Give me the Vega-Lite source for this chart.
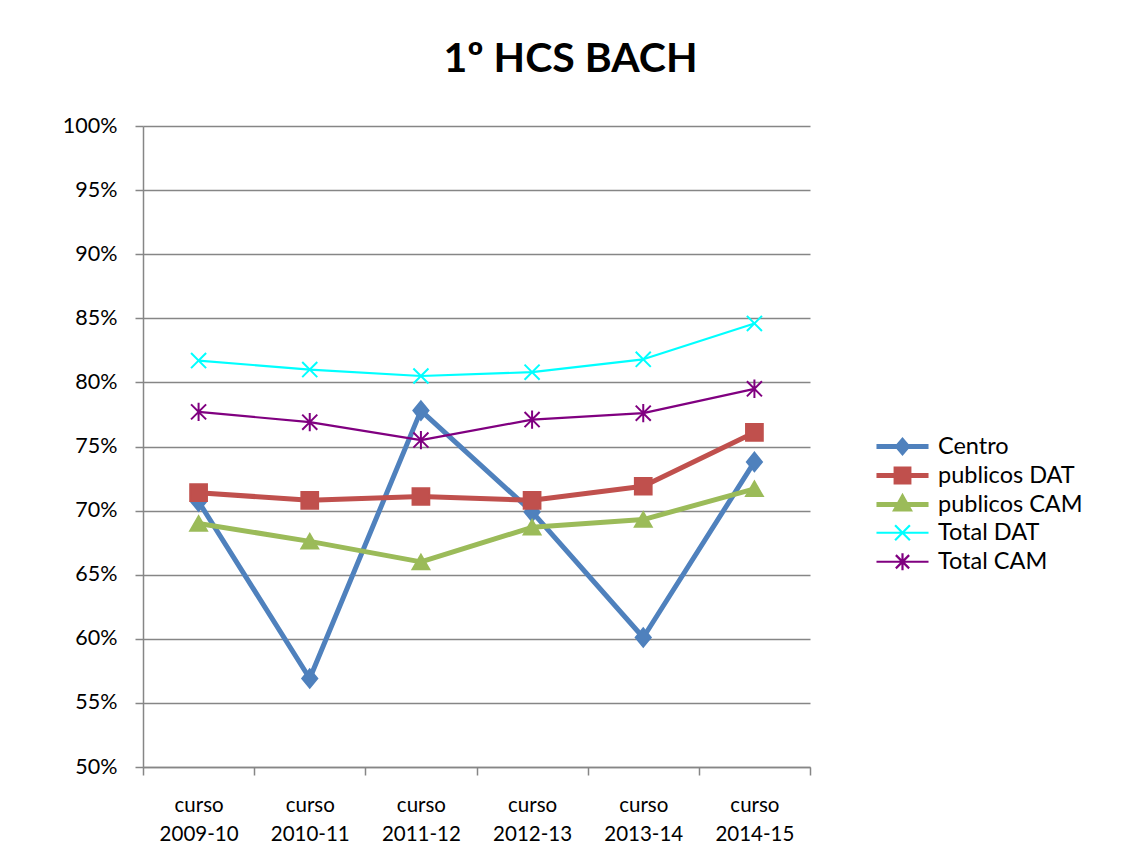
{
  "$schema": "https://vega.github.io/schema/vega-lite/v6.json",
  "width": 667,
  "height": 641,
  "autosize": {"type": "none"},
  "padding": {"left": 143, "top": 126, "right": 320, "bottom": 98},
  "background": "white",
  "config": {"view": {"stroke": null}, "font": "Lato", "legend": {"gridAlign": "all"}},
  "title": {
    "text": "1º HCS BACH",
    "fontSize": 41,
    "fontWeight": "bold",
    "font": "Lato",
    "color": "black",
    "anchor": "middle",
    "frame": "group",
    "baseline": "alphabetic",
    "offset": 2,
    "dx": 94
  },
  "data": {
    "values": [
      {"curso": "curso 2009-10", "series": "Centro", "value": 0.707},
      {"curso": "curso 2010-11", "series": "Centro", "value": 0.569},
      {"curso": "curso 2011-12", "series": "Centro", "value": 0.778},
      {"curso": "curso 2012-13", "series": "Centro", "value": 0.699},
      {"curso": "curso 2013-14", "series": "Centro", "value": 0.601},
      {"curso": "curso 2014-15", "series": "Centro", "value": 0.738},
      {"curso": "curso 2009-10", "series": "publicos DAT", "value": 0.714},
      {"curso": "curso 2010-11", "series": "publicos DAT", "value": 0.708},
      {"curso": "curso 2011-12", "series": "publicos DAT", "value": 0.711},
      {"curso": "curso 2012-13", "series": "publicos DAT", "value": 0.708},
      {"curso": "curso 2013-14", "series": "publicos DAT", "value": 0.719},
      {"curso": "curso 2014-15", "series": "publicos DAT", "value": 0.761},
      {"curso": "curso 2009-10", "series": "publicos CAM", "value": 0.690},
      {"curso": "curso 2010-11", "series": "publicos CAM", "value": 0.676},
      {"curso": "curso 2011-12", "series": "publicos CAM", "value": 0.660},
      {"curso": "curso 2012-13", "series": "publicos CAM", "value": 0.687},
      {"curso": "curso 2013-14", "series": "publicos CAM", "value": 0.693},
      {"curso": "curso 2014-15", "series": "publicos CAM", "value": 0.717},
      {"curso": "curso 2009-10", "series": "Total DAT", "value": 0.817},
      {"curso": "curso 2010-11", "series": "Total DAT", "value": 0.810},
      {"curso": "curso 2011-12", "series": "Total DAT", "value": 0.805},
      {"curso": "curso 2012-13", "series": "Total DAT", "value": 0.808},
      {"curso": "curso 2013-14", "series": "Total DAT", "value": 0.818},
      {"curso": "curso 2014-15", "series": "Total DAT", "value": 0.846},
      {"curso": "curso 2009-10", "series": "Total CAM", "value": 0.777},
      {"curso": "curso 2010-11", "series": "Total CAM", "value": 0.769},
      {"curso": "curso 2011-12", "series": "Total CAM", "value": 0.755},
      {"curso": "curso 2012-13", "series": "Total CAM", "value": 0.771},
      {"curso": "curso 2013-14", "series": "Total CAM", "value": 0.776},
      {"curso": "curso 2014-15", "series": "Total CAM", "value": 0.795}
    ]
  },
  "encoding": {
    "x": {
      "field": "curso",
      "type": "ordinal",
      "sort": null,
      "scale": {"type": "band", "paddingInner": 0, "paddingOuter": 0},
      "axis": {
        "title": null,
        "labelAngle": 0,
        "labelExpr": "split(datum.label, ' ')",
        "labelFontSize": 20.5,
        "labelFont": "Lato",
        "labelColor": "black",
        "labelLineHeight": 29,
        "labelPadding": 20,
        "tickSize": 8,
        "tickBand": "extent",
        "tickColor": "#868686",
        "tickWidth": 1.5,
        "domainColor": "#868686",
        "domainWidth": 1.5,
        "grid": false
      }
    },
    "y": {
      "field": "value",
      "type": "quantitative",
      "scale": {"domain": [0.5, 1], "nice": false, "zero": false},
      "axis": {
        "title": null,
        "values": [0.5, 0.55, 0.6, 0.65, 0.7, 0.75, 0.8, 0.85, 0.9, 0.95, 1.0],
        "format": ".0%",
        "labelFontSize": 21.5,
        "labelFont": "Lato",
        "labelColor": "black",
        "labelPadding": 18,
        "tickSize": 8,
        "tickColor": "#868686",
        "tickWidth": 1.5,
        "domainColor": "#868686",
        "domainWidth": 1.5,
        "grid": true,
        "gridColor": "#868686",
        "gridWidth": 1.5
      }
    }
  },
  "layer": [
    {
      "mark": {"type": "line", "strokeJoin": "round", "strokeCap": "round"},
      "encoding": {
        "color": {
          "field": "series",
          "type": "nominal",
          "scale": {
            "domain": ["Centro", "publicos DAT", "publicos CAM", "Total DAT", "Total CAM"],
            "range": ["#4F81BD", "#C0504D", "#9BBB59", "#00FFFF", "#800080"]
          },
          "legend": null
        },
        "strokeWidth": {
          "field": "series",
          "type": "nominal",
          "scale": {
            "type": "ordinal",
            "domain": ["Centro", "publicos DAT", "publicos CAM", "Total DAT", "Total CAM"],
            "range": [5, 5, 5, 2.2, 2.2]
          },
          "legend": null
        }
      }
    },
    {
      "mark": {"type": "point", "filled": true, "opacity": 1, "size": 280, "strokeWidth": 2},
      "encoding": {
        "fill": {
          "field": "series",
          "type": "nominal",
          "scale": {
            "domain": ["Centro", "publicos DAT", "publicos CAM", "Total DAT", "Total CAM"],
            "range": ["#4F81BD", "#C0504D", "#9BBB59", "#00FFFF", "#800080"]
          },
          "legend": null
        },
        "stroke": {
          "field": "series",
          "type": "nominal",
          "scale": {
            "domain": ["Centro", "publicos DAT", "publicos CAM", "Total DAT", "Total CAM"],
            "range": ["#4F81BD", "#C0504D", "#9BBB59", "#00FFFF", "#800080"]
          },
          "legend": null
        },
        "shape": {
          "field": "series",
          "type": "nominal",
          "scale": {
            "domain": ["Centro", "publicos DAT", "publicos CAM", "Total DAT", "Total CAM"],
            "range": ["M0,-1.1L0.9,0L0,1.1L-0.9,0Z", "square", "triangle-up", "M-0.9,-0.9L0.9,0.9M-0.9,0.9L0.9,-0.9", "M-0.9,-0.9L0.9,0.9M-0.9,0.9L0.9,-0.9M0,-1.1V1.1"]
          },
          "legend": null
        }
      }
    },
    {
      "mark": {"type": "point", "filled": true, "opacity": 0},
      "encoding": {
        "fill": {
          "field": "series",
          "type": "nominal",
          "scale": {
            "domain": ["Centro", "publicos DAT", "publicos CAM", "Total DAT", "Total CAM"],
            "range": ["#4F81BD", "#C0504D", "#9BBB59", "#00FFFF", "#800080"]
          },
          "legend": {
            "title": null,
            "orient": "none",
            "legendX": 747,
            "legendY": 308,
            "padding": 0,
            "rowPadding": -5,
            "symbolSize": 380,
            "labelOffset": 23,
            "labelFontSize": 23.5,
            "labelFont": "Lato",
            "labelColor": "black",
            "labelLimit": 300,
            "gridAlign": "all"
          }
        },
        "stroke": {
          "field": "series",
          "type": "nominal",
          "scale": {
            "domain": ["Centro", "publicos DAT", "publicos CAM", "Total DAT", "Total CAM"],
            "range": ["#4F81BD", "#C0504D", "#9BBB59", "#00FFFF", "#800080"]
          },
          "legend": {
            "title": null,
            "orient": "none",
            "legendX": 747,
            "legendY": 308,
            "padding": 0,
            "rowPadding": -5,
            "symbolSize": 380,
            "labelOffset": 23,
            "labelFontSize": 23.5,
            "labelFont": "Lato",
            "labelColor": "black",
            "labelLimit": 300,
            "gridAlign": "all"
          }
        },
        "strokeWidth": {
          "field": "series",
          "type": "nominal",
          "scale": {
            "type": "ordinal",
            "domain": ["Centro", "publicos DAT", "publicos CAM", "Total DAT", "Total CAM"],
            "range": [5, 5, 5, 2.2, 2.2]
          },
          "legend": {
            "title": null,
            "orient": "none",
            "legendX": 747,
            "legendY": 308,
            "padding": 0,
            "rowPadding": -5,
            "symbolSize": 380,
            "labelOffset": 23,
            "labelFontSize": 23.5,
            "labelFont": "Lato",
            "labelColor": "black",
            "labelLimit": 300,
            "gridAlign": "all"
          }
        },
        "shape": {
          "field": "series",
          "type": "nominal",
          "scale": {
            "domain": ["Centro", "publicos DAT", "publicos CAM", "Total DAT", "Total CAM"],
            "range": [
              "M0,-0.57L0.49,0L0,0.57L-0.49,0ZM-2.67,0H2.67",
              "M-0.66,-0.66H0.66V0.66H-0.66ZM-0.3,-0.3H0.3V0.3H-0.3ZM-2.67,0H2.67",
              "M0,-0.68L0.64,0.47H-0.64ZM-2.67,0H2.67",
              "M-0.76,-0.76L0.76,0.76M-0.76,0.76L0.76,-0.76M-2.67,0H2.67",
              "M-0.68,-0.68L0.68,0.68M-0.68,0.68L0.68,-0.68M0,-0.86V0.86M-2.67,0H2.67"
            ]
          },
          "legend": {
            "title": null,
            "orient": "none",
            "legendX": 747,
            "legendY": 308,
            "padding": 0,
            "rowPadding": -5,
            "symbolSize": 380,
            "labelOffset": 23,
            "labelFontSize": 23.5,
            "labelFont": "Lato",
            "labelColor": "black",
            "labelLimit": 300,
            "gridAlign": "all"
          }
        }
      }
    }
  ],
  "resolve": {
    "scale": {"fill": "independent", "stroke": "independent", "shape": "independent", "strokeWidth": "independent", "color": "independent"}
  }
}
